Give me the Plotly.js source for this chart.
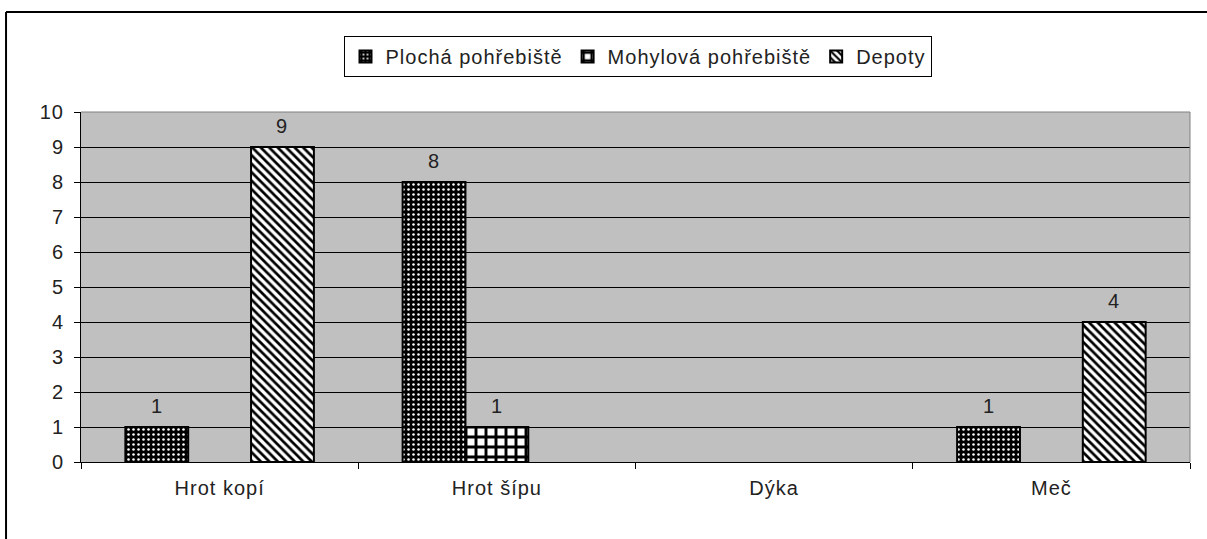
<!DOCTYPE html>
<html>
<head>
<meta charset="utf-8">
<script src="https://cdn.plot.ly/plotly-3.0.1.min.js"></script>
<style>
html,body{margin:0;padding:0;background:#fff;}
#chart{width:1207px;height:539px;}
svg text{letter-spacing:1px;}
</style>
</head>
<body>
<div id="chart"></div>
<script>
const categories = ["Hrot kopí", "Hrot šípu", "Dýka", "Meč"];
const seriesNames = ["Plochá pohřebiště", "Mohylová pohřebiště", "Depoty"];
const plochaValues = [1, 8, null, 1];
const mohylovaValues = [null, 1, null, null];
const depotyValues = [9, null, null, 4];
const yTickValues = [0, 1, 2, 3, 4, 5, 6, 7, 8, 9, 10];

const FONT = "Liberation Sans, Arial, sans-serif";
const TXT = "#222";
const BARGAP = 0.32;
const MARGIN = {l: 81, r: 17, t: 112, b: 77};
const W = 1207, H = 539;

function barTrace(name, values, pattern) {
  return {
    type: "bar",
    name: name,
    x: categories,
    y: values,
    hoverinfo: "none",
    marker: {
      color: pattern.bgcolor,
      line: {color: "#000", width: 2},
      pattern: pattern
    }
  };
}

const allSeries = [plochaValues, mohylovaValues, depotyValues];
const traces = [
  barTrace(seriesNames[0], plochaValues, {shape: ".", bgcolor: "#000", fgcolor: "#fff", size: 5, solidity: 0.2, fillmode: "replace"}),
  barTrace(seriesNames[1], mohylovaValues, {shape: "+", bgcolor: "#fff", fgcolor: "#000", size: 10, solidity: 0.5, fillmode: "replace"}),
  barTrace(seriesNames[2], depotyValues, {shape: "\\", bgcolor: "#fff", fgcolor: "#000", size: 6, solidity: 0.45, fillmode: "replace"})
];

// value labels above bars, offset to each bar of the group
const catPx = (W - MARGIN.l - MARGIN.r) / categories.length;
const barPx = catPx * (1 - BARGAP) / allSeries.length;
const annotations = [];
allSeries.forEach((vals, si) => {
  vals.forEach((v, ci) => {
    if (v == null) return;
    annotations.push({
      x: categories[ci], y: v, xref: "x", yref: "y",
      text: String(v), showarrow: false,
      xshift: (si - (allSeries.length - 1) / 2) * barPx,
      yanchor: "bottom", yshift: 8,
      font: {family: FONT, size: 20, color: TXT}
    });
  });
});

const layout = {
  width: W,
  height: H,
  margin: MARGIN,
  paper_bgcolor: "#fff",
  plot_bgcolor: "#C0C0C0",
  font: {family: FONT, color: TXT},
  barmode: "group",
  bargap: BARGAP,
  bargroupgap: 0,
  showlegend: true,
  legend: {
    orientation: "h",
    x: 0.5027,
    xanchor: "center",
    y: 1.217,
    yanchor: "top",
    bgcolor: "#fff",
    bordercolor: "#000",
    borderwidth: 1,
    font: {family: FONT, size: 20, color: TXT},
    traceorder: "normal",
    itemwidth: 30
  },
  xaxis: {
    type: "category",
    showgrid: false,
    showline: true,
    linecolor: "#000",
    linewidth: 1,
    ticks: "outside",
    tickson: "boundaries",
    ticklen: 6,
    tickcolor: "#000",
    ticklabelstandoff: 8,
    tickfont: {family: FONT, size: 20, color: TXT},
    zeroline: false
  },
  yaxis: {
    range: [0, 10],
    tickvals: yTickValues,
    ticktext: yTickValues.map(String),
    showgrid: true,
    gridcolor: "#000",
    gridwidth: 1,
    showline: true,
    linecolor: "#000",
    linewidth: 1,
    ticks: "outside",
    ticklen: 6,
    tickcolor: "#000",
    ticklabelstandoff: 6,
    tickfont: {family: FONT, size: 20, color: TXT},
    zeroline: false
  },
  annotations: annotations,
  shapes: [
    {type: "line", xref: "paper", yref: "paper", x0: 0, x1: 1, y0: 1, y1: 1, line: {color: "#808080", width: 1}},
    {type: "line", xref: "paper", yref: "paper", x0: 1, x1: 1, y0: 0, y1: 1, line: {color: "#808080", width: 1}},
    {type: "line", xref: "paper", yref: "paper", x0: -0.0676, x1: 1.5, y0: 1.2857, y1: 1.2857, line: {color: "#000", width: 2}},
    {type: "line", xref: "paper", yref: "paper", x0: -0.0676, x1: -0.0676, y0: -0.5, y1: 1.2857, line: {color: "#000", width: 2}}
  ]
};

Plotly.newPlot("chart", traces, layout, {displayModeBar: false, staticPlot: true});
</script>
</body>
</html>
